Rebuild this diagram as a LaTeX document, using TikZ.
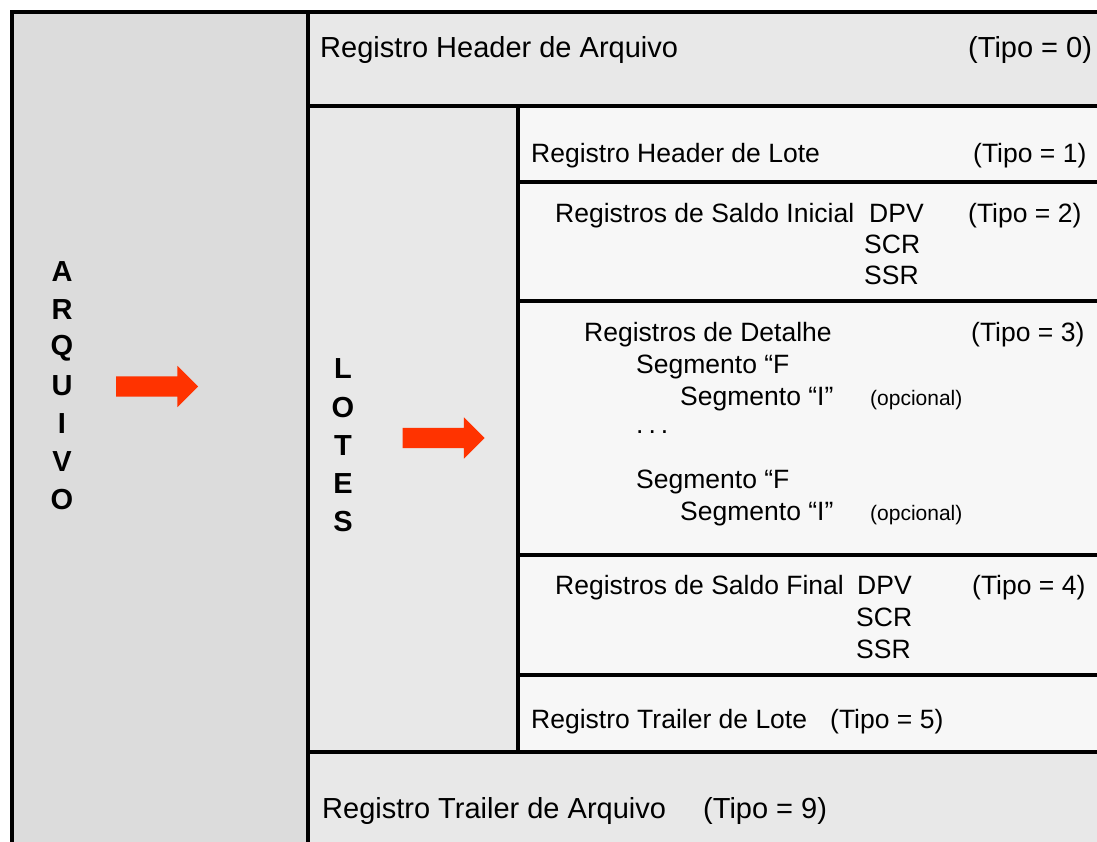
\documentclass[tikz,border=0pt]{standalone}
\usepackage{fontspec}
\setmainfont{Liberation Sans}
\usepackage{tikz}
\usetikzlibrary{positioning,shapes.arrows}
\definecolor{cinzaA}{HTML}{DCDCDC}
\definecolor{cinzaB}{HTML}{E8E8E8}
\definecolor{cinzaC}{HTML}{F7F7F7}
\definecolor{seta}{HTML}{FF3300}

\begin{document}
\begin{tikzpicture}[x=1pt,y=-1pt]
 \tikzstyle{caixa}=[draw,line width=3.5pt]
 \tikzstyle{txt}=[anchor=base west,inner sep=0,font=\fontsize{29}{33}\selectfont]
 \tikzstyle{txtlote}=[anchor=base west,inner sep=0,font=\fontsize{26.5}{30}\selectfont]
 \tikzstyle{peq}=[anchor=base west,inner sep=0,font=\fontsize{21}{25}\selectfont]
 \tikzstyle{letra}=[inner sep=0,font=\fontsize{29}{33}\selectfont\bfseries]
 \tikzstyle{seta}=[single arrow,fill=seta,draw=none,inner xsep=0,inner ysep=10pt,text height=0pt,text depth=0pt,minimum height=82pt,single arrow head extend=10.5pt,single arrow head indent=0pt]
  \useasboundingbox (0,0) rectangle (1097,841);
  \clip (0,0) rectangle (1097,841);
  % colunas e caixas
  \draw[caixa,fill=cinzaA] (12,12) rectangle (308,870);
  \draw[caixa,fill=cinzaB] (308,12) rectangle (1110,106);
  \draw[caixa,fill=cinzaB] (308,106) rectangle (518,752);
  \draw[caixa,fill=cinzaC] (518,106) rectangle (1110,182);
  \draw[caixa,fill=cinzaC] (518,182) rectangle (1110,301);
  \draw[caixa,fill=cinzaC] (518,301) rectangle (1110,555);
  \draw[caixa,fill=cinzaC] (518,555) rectangle (1110,675);
  \draw[caixa,fill=cinzaC] (518,675) rectangle (1110,752);
  \draw[caixa,fill=cinzaB] (308,752) rectangle (1110,870);
  % ARQUIVO / LOTES
  \foreach \l [count=\i from 0] in {A,R,Q,U,I,V,O}
    \node[letra] (arq\i) at (62,272+38*\i) {\l};
  \foreach \l [count=\i from 0] in {L,O,T,E,S}
    \node[letra] (lot\i) at (343,369+38.25*\i) {\l};
  \node[seta] (seta1) at (152,386.5) {};
  \node[seta] (seta2) at (438.5,438) {};
  % header de arquivo
  \node[txt] (hdrarq) at (320,57) {Registro Header de Arquivo};
  \node[txt] (tipo0) at (968,57) {(Tipo = 0)};
  % lote
  \node[txtlote] (hdrlote) at (531,162) {Registro Header de Lote};
  \node[txtlote] (tipo1) at (973,162) {(Tipo = 1)};
  \node[txtlote] (saldoini) at (555,222) {Registros de Saldo Inicial};
  \node[txtlote] (dpv1) at (869,222) {DPV};
  \node[txtlote] (scr1) at (864,253) {SCR};
  \node[txtlote] (ssr1) at (864,284) {SSR};
  \node[txtlote] (tipo2) at (968,222) {(Tipo = 2)};
  \node[txtlote] (detalhe) at (584,341) {Registros de Detalhe};
  \node[txtlote] (tipo3) at (971,341) {(Tipo = 3)};
  \node[txtlote] (segF1) at (636,373) {Segmento “F};
  \node[txtlote] (segI1) at (680,405) {Segmento “I”};
  \node[peq] (opc1) at (870,405) {(opcional)};
  \node[txtlote] (pontos) at (636,433) {.\kern5pt.\kern5pt.};
  \node[txtlote] (segF2) at (636,488) {Segmento “F};
  \node[txtlote] (segI2) at (680,520) {Segmento “I”};
  \node[peq] (opc2) at (870,520) {(opcional)};
  \node[txtlote] (saldofin) at (555,594) {Registros de Saldo Final};
  \node[txtlote] (dpv2) at (857,594) {DPV};
  \node[txtlote] (scr2) at (856,626) {SCR};
  \node[txtlote] (ssr2) at (856,658) {SSR};
  \node[txtlote] (tipo4) at (972,594) {(Tipo = 4)};
  \node[txtlote] (trllote) at (531,728) {Registro Trailer de Lote};
  \node[txtlote] (tipo5) at (830,728) {(Tipo = 5)};
  % trailer de arquivo
  \node[txt] (trlarq) at (322,818) {Registro Trailer de Arquivo};
  \node[txt] (tipo9) at (703,818) {(Tipo = 9)};
\end{tikzpicture}
\end{document}
